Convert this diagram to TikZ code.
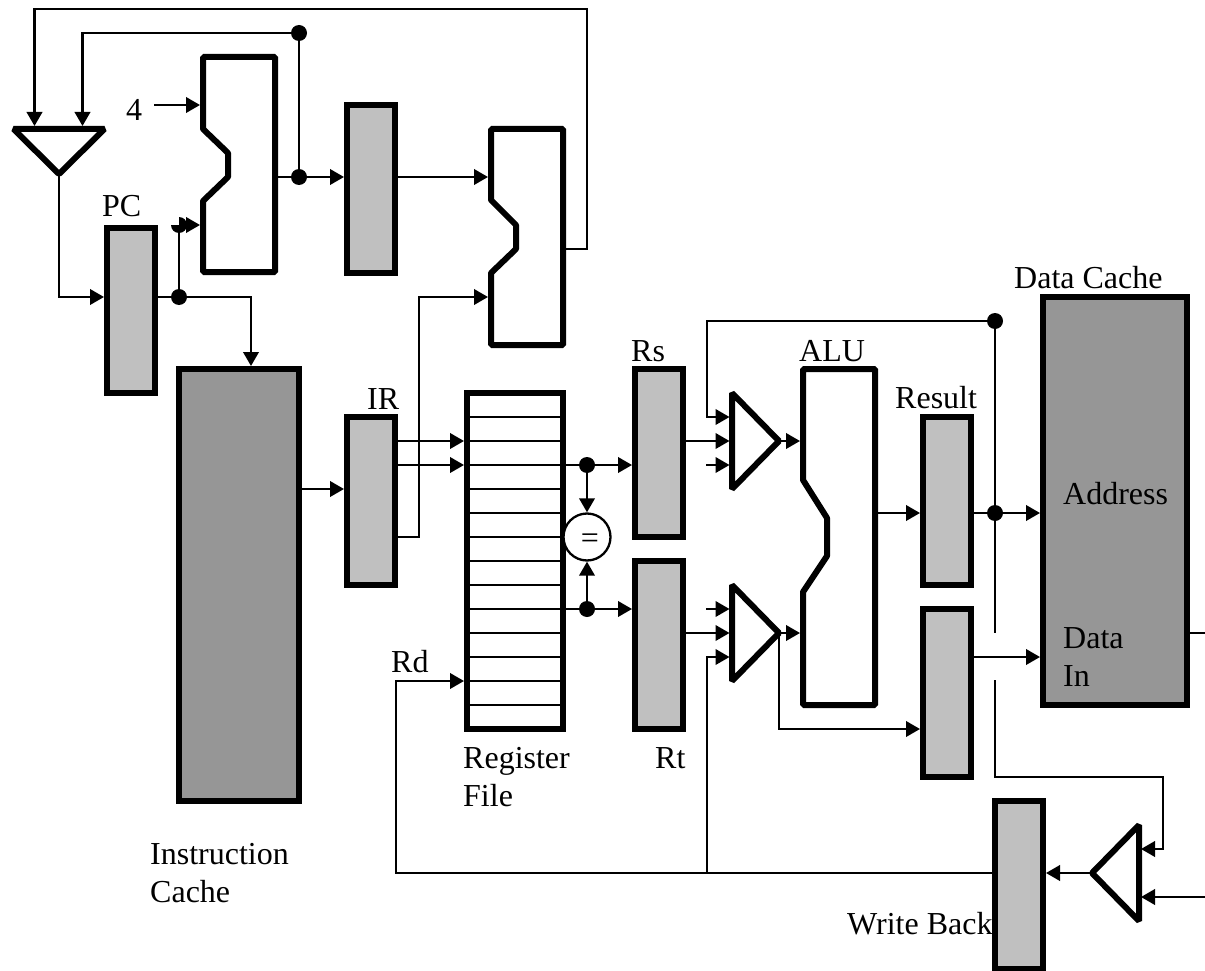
\documentclass[tikz,border=0pt]{standalone}
\usepackage{fontspec}
\setmainfont{Liberation Serif}
\usetikzlibrary{arrows.meta}
\definecolor{regfill}{HTML}{C0C0C0}
\definecolor{cachefill}{HTML}{969696}
\tikzset{
  wire/.style={line width=2.3pt,line join=miter,black},
  arr/.style={wire,-{Triangle[length=14pt,width=15.5pt]}},
  blockline/.style={line width=6pt,line join=bevel,black},
  regbox/.style={draw=black,line width=6pt,fill=regfill,rectangle,inner sep=0pt,minimum width=48pt,minimum height=168pt},
  cachebox/.style={draw=black,line width=6pt,fill=cachefill,rectangle,inner sep=0pt},
  regfilebox/.style={draw=black,line width=6pt,fill=white,rectangle,inner sep=0pt,minimum width=96pt,minimum height=336pt},
  junct/.style={circle,fill=black,inner sep=0pt,minimum size=16pt,outer sep=0pt},
  lbl/.style={anchor=base west,inner sep=0pt,font=\fontsize{32}{38}\selectfont},
}
\begin{document}
\begin{tikzpicture}[x=1pt,y=-1pt]
\useasboundingbox (0,0) rectangle (1205,971);

% registers and caches
\node[regbox,minimum height=165pt] (pc) at (131,310.5) {};
\node[regbox] (latch) at (371,189) {};
\node[regbox] (ir) at (371,501) {};
\node[regbox] (rs) at (659,453) {};
\node[regbox] (rt) at (659,645) {};
\node[regbox] (result) at (947,501) {};
\node[regbox] (datareg) at (947,693) {};
\node[regbox] (wb) at (1019,885) {};
\node[cachebox,minimum width=120pt,minimum height=432pt] (icache) at (239,585) {};
\node[cachebox,minimum width=144pt,minimum height=408pt] (dcache) at (1115,501) {};
\node[regfilebox] (rf) at (515,561) {};
\foreach \yy in {417,441,...,705} \draw[wire] (467,\yy) -- (563,\yy);

% adders and ALU
\draw[blockline] (203,57) -- (275,57) -- (275,272) -- (203,272) -- (203,201) -- (228,177) -- (228,153) -- (203,129) -- cycle;
\draw[blockline] (491,129) -- (563,129) -- (563,345) -- (491,345) -- (491,273) -- (516,249) -- (516,225) -- (491,200) -- cycle;
\draw[blockline] (803,369) -- (875,369) -- (875,705) -- (803,705) -- (803,592) -- (827,556) -- (827,518) -- (803,480) -- cycle;

% multiplexers
\draw[blockline] (13.5,129) -- (104.5,129) -- (59,174) -- cycle;
\draw[blockline] (732,393) -- (732,489) -- (779,441) -- cycle;
\draw[blockline] (732,585) -- (732,681) -- (779,633) -- cycle;
\draw[blockline] (1139,825) -- (1139,921) -- (1092,873) -- cycle;
\coordinate (pcmuxout) at (59,175);
\coordinate (pcmuxa) at (34.5,126);
\coordinate (pcmuxb) at (82.5,126);
\coordinate (add1a) at (200,105);
\coordinate (add1b) at (200,225);
\coordinate (add1out) at (277,177);
\coordinate (add2a) at (488,177);
\coordinate (add2b) at (488,297);
\coordinate (add2out) at (565,249);
\coordinate (muxAout) at (780,441);
\coordinate (muxBout) at (780,633);
\coordinate (aluA) at (800,441);
\coordinate (aluB) at (800,633);
\coordinate (aluout) at (877,513);
\coordinate (wbmuxout) at (1091,873);
\coordinate (wbmuxa) at (1141,849);
\coordinate (wbmuxb) at (1141,897);

% junctions
\node[junct] (j33) at (299,33) {};
\node[junct] (j177) at (299,177) {};
\node[junct] (jpc) at (179,297) {};
\node[junct] (jrs) at (587,465) {};
\node[junct] (jrt) at (587,609) {};
\node[junct] (jtop) at (995,321) {};
\node[junct] (jres) at (995,513) {};
\node[circle,draw=black,line width=2.3pt,fill=white,minimum size=47pt,inner sep=0pt,outer sep=1.2pt,font=\fontsize{32}{38}\selectfont] (eq) at (587,537) {};
\node[inner sep=0pt,font=\fontsize{32}{38}\selectfont] (eqtxt) at (590,541) {=};

% broken dot at the top of the PC branch: upper left quadrant missing
\coordinate (jcut) at (179,225);
\fill[black] (jcut) -- ++(0,-8) arc[start angle=-90,end angle=180,radius=8] -- cycle;

% top feedback loops
\draw[arr] (add2out) -- (587,249) -- (587,9) -- (34.5,9) -- (pcmuxa);
\draw[arr] (j33) -- (82.5,33) -- (pcmuxb);
\draw[wire] (j33) -- (j177);
\draw[wire] (add1out) -- (j177);
\draw[arr] (j177) -- (latch.west |- j177);
\draw[arr] (latch.east |- add2a) -- (add2a);
\coordinate (four) at (154,105);
\draw[arr] (four) -- (add1a);
\draw[wire] (jpc) -- (jcut);
\draw[arr] (187,225) -- (add1b);
\draw[arr] (pcmuxout) -- (59,297) -- (pc.west |- jpc);
\draw[wire] (pc.east |- jpc) -- (jpc);
\draw[arr] (jpc) -- (251,297) -- (251,366);

% instruction path
\draw[arr] (icache.east |- ir) ++(0,-12) -- (ir.west |- 0,489);
\draw[arr] (ir.east |- 0,441) -- (rf.west |- 0,441);
\draw[arr] (ir.east |- 0,465) -- (rf.west |- 0,465);
\draw[arr] (ir.east |- 0,537) -- (419,537) -- (419,297) -- (add2b);

% register outputs
\draw[wire] (rf.east |- jrs) -- (jrs);
\draw[wire] (rf.east |- jrt) -- (jrt);
\draw[arr] (jrs) -- (rs.west |- jrs);
\draw[arr] (jrt) -- (rt.west |- jrt);
\draw[arr] (jrs) -- (eq.north);
\draw[arr] (jrt) -- (eq.south);

% ALU muxes
\draw[arr] (jtop) -- (707,321) -- (707,417) -- (729.5,417);
\draw[arr] (rs.east |- 0,441) -- (729.5,441);
\draw[arr] (706,465) -- (729.5,465);
\draw[arr] (706,609) -- (729.5,609);
\draw[arr] (rt.east |- 0,633) -- (729.5,633);
\draw[arr] (wb.west |- wbmuxout) -- (707,873) -- (707,657) -- (729.5,657);
\draw[arr] (muxAout) -- (aluA);
\draw[arr] (muxBout) -- (aluB);
\draw[arr] (779,633) -- (779,729) -- (datareg.west |- 0,729);
\draw[arr] (aluout) -- (result.west |- aluout);
\draw[wire] (result.east |- jres) -- (jres);
\draw[arr] (jres) -- (dcache.west |- jres);
\draw[arr] (datareg.east |- 0,657) -- (dcache.west |- 0,657);
\draw[wire] (jtop) -- (995,633);
\draw[wire] (dcache.east |- 0,633) -- (1205,633);

% write back
\draw[arr] (995,680) -- (995,777) -- (1163,777) -- (1163,849) -- (wbmuxa);
\draw[arr] (1205,897) -- (wbmuxb);
\draw[arr] (wbmuxout) -- (wb.east |- wbmuxout);
\draw[arr] (707,873) -- (396,873) -- (396,681) -- (rf.west |- 0,681);

% labels
\node[lbl] (t4) at (126,121) {4};
\node[lbl] (tpc) at (102,216) {PC};
\node[lbl] (tir) at (367,409) {IR};
\node[lbl] (trs) at (631,361) {Rs};
\node[lbl] (talu) at (799,361) {ALU};
\node[lbl] (tres) at (895,408) {Result};
\node[lbl] (tdc) at (1014,288.5) {Data Cache};
\node[lbl] (taddr) at (1063,504.5) {Address};
\node[lbl] (tdata) at (1063,648) {Data};
\node[lbl] (tin) at (1063,686) {In};
\node[lbl] (trd) at (391,672) {Rd};
\node[lbl] (treg) at (463,768) {Register};
\node[lbl] (tfile) at (463,806) {File};
\node[lbl] (trt) at (655,768) {Rt};
\node[lbl] (tic1) at (150,864) {Instruction};
\node[lbl] (tic2) at (150,902) {Cache};
\node[lbl] (twb) at (847,934.5) {Write Back};
\end{tikzpicture}
\end{document}
